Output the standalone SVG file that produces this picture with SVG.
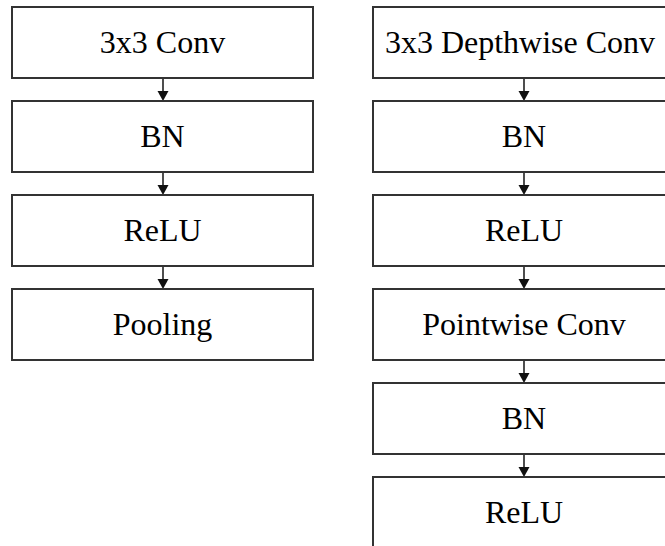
<svg xmlns="http://www.w3.org/2000/svg" width="665" height="546" viewBox="0 0 665 546">
<defs>
<style>
.box{fill:#fff;stroke:#333;stroke-width:2}
text{font-family:"Liberation Serif",Tinos,"Noto Serif","DejaVu Serif","Times New Roman",Times,serif;font-size:32px;fill:#000;text-anchor:middle}
.conn{stroke:#222;stroke-width:1.6;fill:none}
.head{fill:#111;stroke:none}
</style>
</defs>
<rect width="665" height="546" fill="#fff"/>
<g id="connectors">
<line class="conn" x1="163" y1="78" x2="163" y2="93"/><path class="head" d="M157.5,91 L168.5,91 L163,101 z"/>
<line class="conn" x1="163" y1="172" x2="163" y2="187"/><path class="head" d="M157.5,185 L168.5,185 L163,195 z"/>
<line class="conn" x1="163" y1="266" x2="163" y2="281"/><path class="head" d="M157.5,279 L168.5,279 L163,289 z"/>
<line class="conn" x1="524" y1="78" x2="524" y2="93"/><path class="head" d="M518.5,91 L529.5,91 L524,101 z"/>
<line class="conn" x1="524" y1="172" x2="524" y2="187"/><path class="head" d="M518.5,185 L529.5,185 L524,195 z"/>
<line class="conn" x1="524" y1="266" x2="524" y2="281"/><path class="head" d="M518.5,279 L529.5,279 L524,289 z"/>
<line class="conn" x1="524" y1="360" x2="524" y2="375"/><path class="head" d="M518.5,373 L529.5,373 L524,383 z"/>
<line class="conn" x1="524" y1="454" x2="524" y2="469"/><path class="head" d="M518.5,467 L529.5,467 L524,477 z"/>
</g>
<g id="l1"><rect class="box" x="12" y="7" width="301" height="71"/><text x="162.5" y="52.5">3x3 Conv</text></g>
<g id="l2"><rect class="box" x="12" y="101" width="301" height="71"/><text x="162.5" y="146.5">BN</text></g>
<g id="l3"><rect class="box" x="12" y="195" width="301" height="71"/><text x="162.5" y="240.5">ReLU</text></g>
<g id="l4"><rect class="box" x="12" y="289" width="301" height="71"/><text x="162.5" y="334.5">Pooling</text></g>
<g id="r1"><rect class="box" x="373" y="7" width="302" height="71"/><text x="520" y="52.5">3x3 Depthwise Conv</text></g>
<g id="r2"><rect class="box" x="373" y="101" width="302" height="71"/><text x="524" y="146.5">BN</text></g>
<g id="r3"><rect class="box" x="373" y="195" width="302" height="71"/><text x="524" y="240.5">ReLU</text></g>
<g id="r4"><rect class="box" x="373" y="289" width="302" height="71"/><text x="524" y="334.5">Pointwise Conv</text></g>
<g id="r5"><rect class="box" x="373" y="383" width="302" height="71"/><text x="524" y="428.5">BN</text></g>
<g id="r6"><rect class="box" x="373" y="477" width="302" height="90"/><text x="524" y="522.5">ReLU</text></g>
</svg>
